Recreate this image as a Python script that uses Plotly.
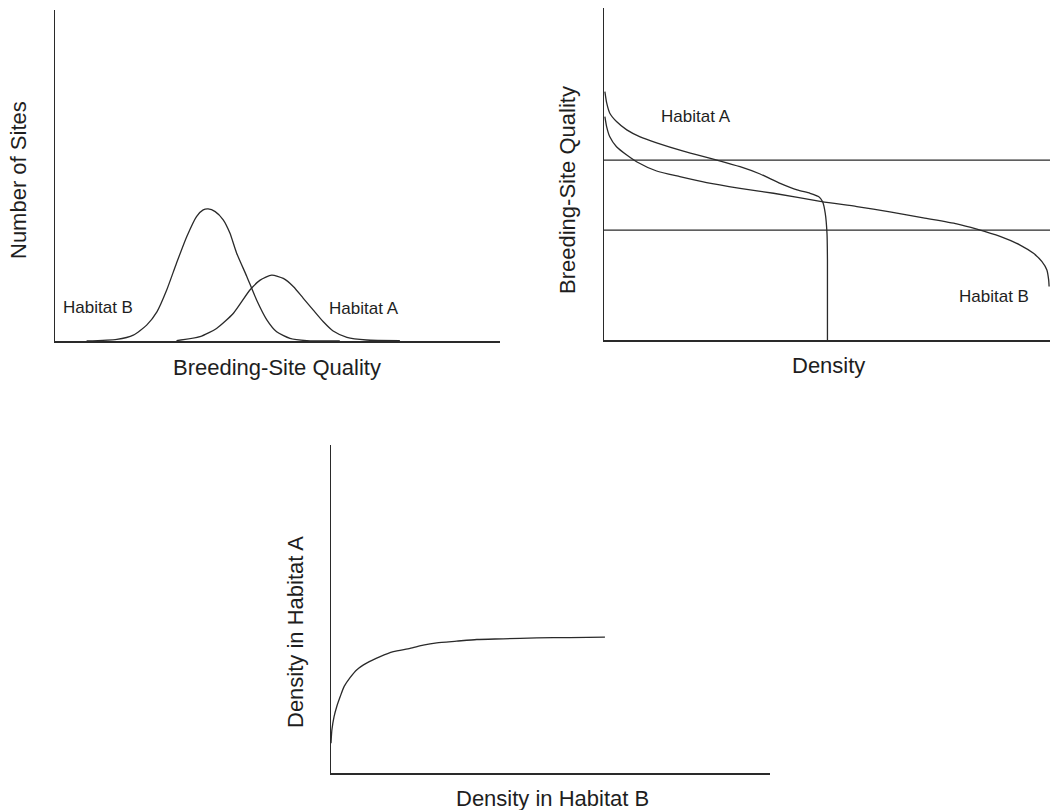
import plotly.graph_objects as go

W, H = 1050, 810

# ---- Panel 1: Number of sites vs breeding-site quality ----
p1_habB_x = [0.71, 1.39, 1.76, 2.06, 2.29, 2.51, 2.73, 2.96, 3.18, 3.33, 3.44, 3.60, 3.78, 3.93, 4.08, 4.31, 4.53, 4.76, 4.98, 5.28, 5.66, 6.40]
p1_habB_y = [0.00, 0.05, 0.18, 0.48, 0.88, 1.54, 2.35, 3.15, 3.76, 3.96, 3.99, 3.91, 3.66, 3.26, 2.66, 1.95, 1.24, 0.64, 0.28, 0.08, 0.01, 0.00]
p1_habA_x = [2.73, 3.26, 3.63, 4.01, 4.38, 4.61, 4.87, 5.13, 5.36, 5.58, 5.80, 6.03, 6.25, 6.56, 7.00, 7.75]
p1_habA_y = [0.01, 0.13, 0.38, 0.84, 1.54, 1.84, 1.99, 1.89, 1.64, 1.29, 0.94, 0.58, 0.30, 0.11, 0.03, 0.01]

# ---- Panel 2: Breeding-site quality vs density ----
p2_habA_x = [0.02, 0.06, 0.13, 0.28, 0.51, 0.81, 1.18, 1.78, 2.53, 3.05, 3.50, 3.95, 4.33, 4.62, 4.81, 4.90, 4.96, 5.00, 5.01, 5.01]
p2_habA_y = [7.48, 7.14, 6.83, 6.58, 6.33, 6.12, 5.94, 5.69, 5.42, 5.22, 5.00, 4.72, 4.52, 4.42, 4.32, 4.17, 3.82, 3.21, 2.41, 0.00]
p2_habB_x = [0.02, 0.06, 0.13, 0.28, 0.51, 0.73, 1.18, 1.70, 2.30, 3.05, 3.80, 4.88, 5.67, 6.41, 7.16, 7.91, 8.36, 8.88, 9.33, 9.63, 9.82, 9.93, 9.97, 9.98]
p2_habB_y = [6.73, 6.42, 6.12, 5.82, 5.57, 5.37, 5.09, 4.92, 4.74, 4.57, 4.42, 4.17, 4.02, 3.86, 3.68, 3.50, 3.34, 3.12, 2.86, 2.61, 2.36, 2.11, 1.81, 1.61]
p2_thresholds = [5.42, 3.31]
p2_xmax = 10

# ---- Panel 3: Density in habitat A vs density in habitat B ----
p3_x = [0.00, 0.02, 0.07, 0.13, 0.21, 0.30, 0.43, 0.59, 0.81, 1.12, 1.42, 1.80, 2.10, 2.41, 2.86, 3.32, 3.92, 4.69, 5.44, 6.24]
p3_y = [0.91, 1.31, 1.72, 2.02, 2.33, 2.64, 2.90, 3.15, 3.35, 3.55, 3.70, 3.80, 3.90, 3.97, 4.02, 4.07, 4.09, 4.12, 4.13, 4.14]

FONT = "Liberation Sans, Arial, Helvetica, sans-serif"
INK = "#1e1e1e"
LC = "#2a2a2a"

fig = go.Figure()

def add(x, y, xa, ya, smooth=True):
    line = dict(color=LC, width=1.3)
    if smooth:
        line.update(shape="spline", smoothing=0.6)
    fig.add_trace(go.Scatter(x=x, y=y, mode="lines", line=line, xaxis=xa, yaxis=ya,
                             showlegend=False, hoverinfo="skip"))

add(p1_habB_x, p1_habB_y, "x", "y")
add(p1_habA_x, p1_habA_y, "x", "y")
for t in p2_thresholds:
    add([0, p2_xmax], [t, t], "x2", "y2", smooth=False)
add(p2_habA_x, p2_habA_y, "x2", "y2")
add(p2_habB_x, p2_habB_y, "x2", "y2")
add(p3_x, p3_y, "x3", "y3")

def px_dom_x(a, b):
    return [a / W, b / W]

def px_dom_y(top, bottom):
    return [1 - bottom / H, 1 - top / H]

ax_common = dict(showline=True, linecolor=LC, linewidth=1.5, showgrid=False,
                 zeroline=False, showticklabels=False, ticks="", fixedrange=True)

fig.update_layout(
    width=W, height=H,
    margin=dict(l=0, r=0, t=0, b=0),
    paper_bgcolor="white", plot_bgcolor="white",
    xaxis=dict(domain=px_dom_x(55, 500), range=[0, 10], anchor="y", **ax_common),
    yaxis=dict(domain=px_dom_y(10, 341), range=[0, 10], anchor="x", **ax_common),
    xaxis2=dict(domain=px_dom_x(604, 1050), range=[0, 10], anchor="y2", **ax_common),
    yaxis2=dict(domain=px_dom_y(8, 340), range=[0, 10], anchor="x2", **ax_common),
    xaxis3=dict(domain=px_dom_x(331, 770), range=[0, 10], anchor="y3", **ax_common),
    yaxis3=dict(domain=px_dom_y(445, 773), range=[0, 10], anchor="x3", **ax_common),
)

def label(text, x, y, xref, yref, size=17):
    fig.add_annotation(text=text, x=x, y=y, xref=xref, yref=yref, showarrow=False,
                       xanchor="center", yanchor="middle",
                       font=dict(family=FONT, size=size, color=INK))

# curve labels (data coordinates)
label("Habitat B", 0.97, 1.00, "x", "y")
label("Habitat A", 6.94, 0.97, "x", "y")
label("Habitat A", 2.06, 6.72, "x2", "y2")
label("Habitat B", 8.74, 1.30, "x2", "y2")

def title(text, cx, cy, angle=0):
    fig.add_annotation(text=text, x=cx / W, y=1 - cy / H, xref="paper", yref="paper",
                       showarrow=False, xanchor="center", yanchor="middle", textangle=angle,
                       font=dict(family=FONT, size=22, color=INK))

title("Breeding-Site Quality", 277, 367)
title("Number of Sites", 18, 180, -90)
title("Density", 828, 365)
title("Breeding-Site Quality", 568, 190, -90)
title("Density in Habitat B", 552, 798)
title("Density in Habitat A", 295, 632, -90)

fig.write_html("out.html", config={"displayModeBar": False, "staticPlot": True},
               post_script="document.body.style.margin='0';document.body.style.overflow='hidden';")
